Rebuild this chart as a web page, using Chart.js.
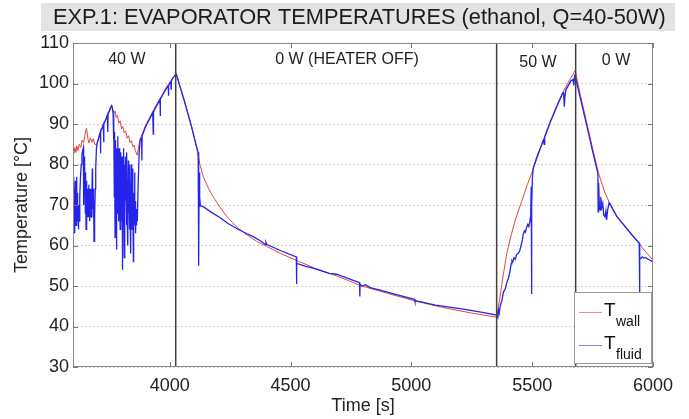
<!DOCTYPE html>
<html>
<head>
<meta charset="utf-8">
<script src="https://cdn.jsdelivr.net/npm/chart.js@4.4.1/dist/chart.umd.min.js"></script>
<style>
  html, body { margin: 0; padding: 0; background: #fff; }
  #wrap { width: 689px; height: 419px; }
</style>
</head>
<body>
<div id="wrap"><canvas id="c" width="689" height="419"></canvas></div>
<script>
// Evaporator wall temperature [°C] vs time [s]
const wallTime = [3600,3604,3608,3612,3616,3620,3626,3632,3638,3644,3650,3656,3662,3666,3672,3678,3684,3690,3698,3706,3714,3722,3730,3738,3746,3754,3760,3765,3770,3774,3779,3784,3790,3795,3801,3806,3812,3818,3824,3830,3836,3842,3848,3853,3858,3866,3872,3878,3900,3930,3960,3990,4027,4060,4090,4112,4125,4139,4160,4180,4208,4240,4277,4320,4360,4401,4460,4526,4600,4691,4790,4900,5022,5130,5250,5353,5366,5381,5395,5408,5430,5456,5480,5504,5540,5574,5600,5629,5655,5678,5700,5726,5750,5774,5800,5822,5850,5891,5920,5946,5970,6000];
const wallTemp = [83.5,82.8,84.2,83.0,84.6,83.4,85.0,84.2,86.0,85.4,87.5,89.0,86.2,85.3,86.6,85.5,86.4,85.0,84.8,86.5,88.0,89.2,90.3,91.3,92.4,93.6,94.7,93.6,92.6,93.2,91.6,92.1,90.2,90.8,88.8,89.4,87.8,88.3,86.5,87.1,85.4,85.9,84.4,84.8,83.4,82.3,84.5,86.3,89.6,93.1,96.3,99.4,102.6,96.0,89.6,84.2,80.0,77.0,74.2,72.0,69.5,66.9,64.6,62.6,61.0,59.8,58.0,56.3,54.4,52.5,50.1,48.2,46.2,44.7,43.3,42.3,47.0,53.0,58.0,61.4,66.3,70.8,75.0,78.8,84.9,90.5,94.3,98.0,100.9,103.2,97.0,90.3,84.0,78.0,73.2,70.3,67.3,64.2,62.2,60.2,58.4,56.4];

// Working fluid temperature [°C] vs time [s]
const fluidTime = [3600,3601,3603,3604,3606,3607,3609,3610,3612,3613,3615,3616,3618,3619,3621,3622,3624,3626,3628,3631,3634,3637,3640,3643,3644,3646,3647,3649,3651,3652,3654,3656,3657,3659,3660,3662,3663,3665,3666,3668,3669,3671,3672,3674,3675,3677,3678,3680,3681,3683,3684,3686,3687,3689,3690,3692,3694,3697,3700,3705,3710,3713,3714,3715,3720,3725,3727,3728,3733,3738,3742,3744,3745,3750,3755,3760,3763,3766,3768,3769,3771,3772,3774,3775,3777,3778,3780,3781,3783,3785,3786,3788,3789,3791,3792,3794,3795,3797,3798,3800,3801,3803,3804,3806,3807,3809,3810,3812,3813,3815,3817,3818,3820,3821,3823,3824,3826,3827,3829,3830,3832,3833,3835,3836,3838,3839,3841,3842,3844,3845,3847,3848,3850,3851,3853,3855,3856,3858,3859,3861,3862,3864,3866,3870,3874,3878,3884,3885,3886,3900,3915,3930,3932,3933,3945,3960,3961,3962,3975,3990,3994,3995,3996,4005,4006,4007,4015,4027,4060,4090,4110,4118,4119,4120,4121,4122,4123,4125,4127,4139,4170,4208,4240,4277,4320,4346,4380,4396,4398,4401,4460,4524,4525,4526,4560,4600,4660,4691,4740,4786,4787,4788,4800,4810,4830,4870,4950,5013,5015,5022,5100,5215,5300,5353,5358,5361,5364,5368,5375,5381,5388,5395,5402,5408,5413,5416,5420,5425,5430,5436,5442,5448,5452,5456,5460,5463,5468,5472,5477,5482,5486,5491,5494,5496,5497,5498,5499,5501,5504,5520,5540,5546,5550,5552,5574,5600,5625,5630,5633,5636,5640,5660,5670,5672,5676,5680,5700,5726,5750,5772,5773,5775,5778,5781,5784,5788,5792,5796,5801,5805,5808,5813,5818,5822,5850,5891,5920,5943,5944,5945,5946,5950,5956,5962,5970,5980,5990,6000];
const fluidTemp = [75,68,77,66,74,63,76,67,72,65,77,68,73,66,70,64,69,66,72,77,80,82.5,83.5,84.2,70,82,74,80,68,78,64,76,69,74,67,73,68,75,67,72,66,74,68,71,67,73,70,79,69,74,67,72,61,70,67,74,79,84,85.3,86.3,87.4,88.0,82.8,88.3,89.0,89.8,85.5,90.0,90.8,91.5,92.2,88.0,92.4,93.2,94.0,94.5,93.8,92.5,86,91,72,88,62,86,70,84,59,82,68,87,72,80,66,84,70,76,64,83,69,79,66,82,54,76,68,84,70,57,80,67,82,71,78,65,83,68,76,60,81,68,77,64,80,69,75,58,80,67,78,64,79,70,56,73,66,78,65,71,63,69,65,68,66,76,83,86.0,86.7,81.0,87.0,89.3,91.0,92.8,87.5,93.0,94.4,96.0,92.0,96.1,97.6,99.1,99.4,97.0,99.5,100.4,98.6,100.6,101.5,102.3,95.8,89.4,84.6,83.0,70.0,81.0,55.0,78.0,69.5,72,69.8,69.6,68.3,66.9,65.5,64.2,62.9,62.2,61.0,60.2,60.8,60.3,58.7,57.2,50.5,55.6,54.9,54.3,53.1,52.9,51.8,50.8,47.4,50.3,50.0,50.3,49.6,49.0,47.7,46.7,46.2,46.3,45.3,44.3,43.4,42.8,42.2,44.0,43.3,45.2,46.5,48.5,49.2,50.8,52.0,53.5,55.5,56.3,56.0,57.0,56.6,57.8,58.0,58.6,59.5,60.5,61.5,62.8,63.6,63.3,64.5,65.2,64.7,66.0,67.5,74.5,60.0,48.0,70.0,76.5,79.0,82.0,85.0,86.0,85.0,86.8,90.3,94.0,97.5,97.8,94.3,97.0,98.5,100.6,101.0,99.5,101.8,101.3,96.2,89.6,83.3,77.8,68.3,75.4,70.0,68.8,72.0,69.4,70.4,67.6,67.1,68.5,66.3,69.0,70.5,70.2,67.2,64.2,62.1,60.6,56.8,48.0,57.0,56.8,57.2,56.9,57.0,56.6,56.3,55.9];

const xTicks = [4000, 4500, 5000, 5500, 6000];
const yTicks = [30, 40, 50, 60, 70, 80, 90, 100, 110];

// Heater power phases
const phaseBounds = [4025, 5353, 5680];
const phaseLabels = ['40 W', '0 W (HEATER OFF)', '50 W', '0 W'];
const phaseLabelTime = [3823, 4734, 5524, 5847];
const phaseLabelTemp = [106.0, 106.0, 105.2, 105.6];

const titleText = 'EXP.1: EVAPORATOR TEMPERATURES (ethanol, Q=40-50W)';
const FONT = '"Liberation Sans", Arial, Helvetica, sans-serif';
const WALL_COLOR = 'rgb(226,72,62)';
const FLUID_COLOR = 'rgb(36,36,236)';

const toPoints = (ts, vs) => ts.map((t, i) => ({ x: t, y: vs[i] }));

const decor = {
  id: 'decor',
  beforeDraw(chart) {
    const ctx = chart.ctx;
    ctx.save();
    ctx.fillStyle = '#ffffff';
    ctx.fillRect(0, 0, chart.width, chart.height);
    // title band
    ctx.fillStyle = '#e3e3e3';
    ctx.fillRect(41, 3, 634, 28);
    ctx.fillStyle = '#1c1c1c';
    ctx.font = '21.8px ' + FONT;
    ctx.textAlign = 'left';
    ctx.textBaseline = 'middle';
    ctx.fillText(titleText, 53, 18);
    ctx.restore();
  },
  afterDatasetsDraw(chart) {
    const { ctx, chartArea: a, scales: { x, y } } = chart;
    ctx.save();

    // phase boundaries
    ctx.strokeStyle = '#404040';
    ctx.lineWidth = 1.5;
    phaseBounds.forEach(t => {
      const px = x.getPixelForValue(t);
      ctx.beginPath();
      ctx.moveTo(px, a.top);
      ctx.lineTo(px, a.bottom);
      ctx.stroke();
    });

    // phase labels
    ctx.fillStyle = '#222';
    ctx.font = '16px ' + FONT;
    ctx.textAlign = 'center';
    ctx.textBaseline = 'middle';
    phaseLabels.forEach((s, i) => {
      ctx.fillText(s, x.getPixelForValue(phaseLabelTime[i]), y.getPixelForValue(phaseLabelTemp[i]));
    });

    // axes box
    ctx.strokeStyle = '#888';
    ctx.lineWidth = 1;
    ctx.strokeRect(a.left + 0.5, a.top + 0.5, a.right - a.left - 1, a.bottom - a.top - 1);

    // inward tick marks
    const tl = 5;
    ctx.strokeStyle = '#777';
    ctx.beginPath();
    xTicks.forEach(t => {
      const px = Math.round(x.getPixelForValue(t)) + 0.5;
      ctx.moveTo(px, a.bottom); ctx.lineTo(px, a.bottom - tl);
      ctx.moveTo(px, a.top); ctx.lineTo(px, a.top + tl);
    });
    yTicks.forEach(v => {
      const py = Math.round(y.getPixelForValue(v)) + 0.5;
      ctx.moveTo(a.left, py); ctx.lineTo(a.left + tl, py);
      ctx.moveTo(a.right, py); ctx.lineTo(a.right - tl, py);
    });
    ctx.stroke();

    // legend
    const lw = 77, lh = 71;
    const lx = a.right - lw - 2, ly = a.bottom - lh - 4;
    ctx.fillStyle = '#fff';
    ctx.fillRect(lx, ly, lw, lh);
    ctx.strokeStyle = '#999';
    ctx.strokeRect(lx + 0.5, ly + 0.5, lw, lh);
    const entries = [
      { color: WALL_COLOR, sub: 'wall', yy: ly + 20 },
      { color: FLUID_COLOR, sub: 'fluid', yy: ly + 53 }
    ];
    entries.forEach(e => {
      ctx.strokeStyle = e.color;
      ctx.globalAlpha = 0.6;
      ctx.lineWidth = 1;
      ctx.beginPath();
      ctx.moveTo(lx + 5, e.yy + 0.5);
      ctx.lineTo(lx + 28, e.yy + 0.5);
      ctx.stroke();
      ctx.globalAlpha = 1;
      ctx.fillStyle = '#111';
      ctx.textAlign = 'left';
      ctx.textBaseline = 'alphabetic';
      ctx.font = '19px ' + FONT;
      ctx.fillText('T', lx + 30, e.yy + 4);
      ctx.font = '14px ' + FONT;
      ctx.fillText(e.sub, lx + 42, e.yy + 14);
    });

    ctx.restore();
  }
};

new Chart(document.getElementById('c'), {
  type: 'line',
  data: {
    datasets: [
      {
        label: 'T_wall',
        data: toPoints(wallTime, wallTemp),
        borderColor: WALL_COLOR,
        borderWidth: 1,
        pointRadius: 0,
        tension: 0,
        order: 2
      },
      {
        label: 'T_fluid',
        data: toPoints(fluidTime, fluidTemp),
        borderColor: FLUID_COLOR,
        borderWidth: 1.3,
        pointRadius: 0,
        tension: 0,
        order: 1
      }
    ]
  },
  options: {
    responsive: false,
    animation: false,
    events: [],
    layout: { padding: { top: 43, right: 36, left: 0, bottom: 0 } },
    plugins: { legend: { display: false }, tooltip: { enabled: false }, title: { display: false } },
    scales: {
      x: {
        type: 'linear',
        min: 3600,
        max: 6000,
        afterBuildTicks: s => { s.ticks = xTicks.map(v => ({ value: v })); },
        afterFit: s => { s.height = 52; },
        grid: { display: false, drawTicks: false },
        border: { display: false },
        ticks: { font: { family: FONT, size: 18 }, color: '#222', padding: 8, maxRotation: 0, callback: v => String(v) },
        title: { display: true, text: 'Time [s]', font: { family: FONT, size: 18 }, color: '#222', padding: { top: 0, bottom: 2 } }
      },
      y: {
        min: 30,
        max: 110,
        afterBuildTicks: s => { s.ticks = yTicks.map(v => ({ value: v })); },
        afterFit: s => { s.width = 73; },
        grid: { color: '#d0d0d0', lineWidth: 1, drawTicks: false },
        border: { display: false, dash: [2, 2] },
        ticks: { font: { family: FONT, size: 18 }, color: '#222', padding: 4, callback: v => String(v) },
        title: { display: true, text: 'Temperature [°C]', font: { family: FONT, size: 18 }, color: '#222', padding: { top: 11, bottom: 0 } }
      }
    }
  },
  plugins: [decor]
});
</script>
</body>
</html>
